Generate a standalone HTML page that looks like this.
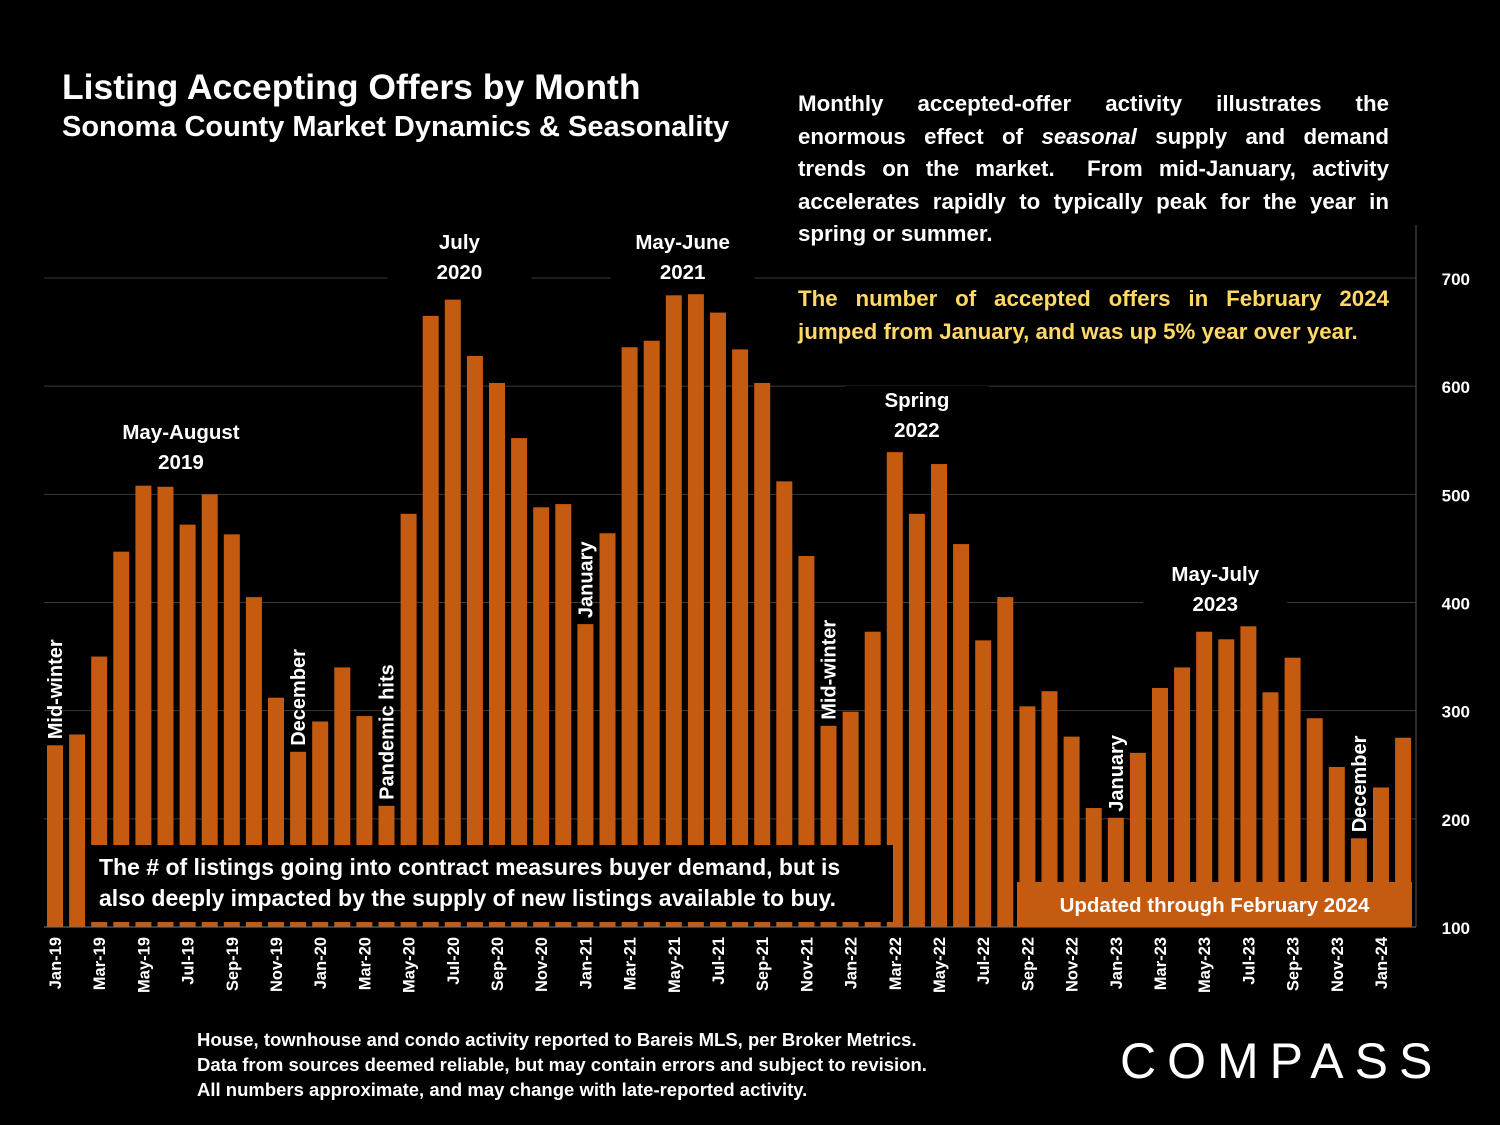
<!DOCTYPE html>
<html><head><meta charset="utf-8">
<style>
html,body{margin:0;padding:0;background:#000;}
body{width:1500px;height:1125px;position:relative;overflow:hidden;font-family:"Liberation Sans",sans-serif;color:#fff;}
.abs{position:absolute;}
#title{left:62px;top:67px;font-size:35.5px;font-weight:bold;white-space:nowrap;}
#subtitle{left:62px;top:111px;font-size:29px;font-weight:bold;white-space:nowrap;}
#para{left:798px;top:88px;width:591px;font-size:22.3px;font-weight:bold;line-height:32.5px;text-align:justify;background:#000;}
#para2{left:798px;top:283px;width:591px;font-size:22.3px;font-weight:bold;line-height:32.5px;text-align:justify;color:#ffd966;background:#000;}
#note{left:85px;top:845px;width:808px;height:77px;background:#000;font-size:23px;font-weight:bold;line-height:31px;padding:7px 14px 0 14px;box-sizing:border-box;}
#updated{left:1017px;top:882px;width:395px;height:45px;background:#c55a11;font-size:20.5px;font-weight:bold;line-height:47px;text-align:center;}
#foot{left:197px;top:1027px;font-size:18.5px;font-weight:bold;line-height:25px;white-space:nowrap;}
#logo{left:1120px;top:1032px;font-size:50px;letter-spacing:11px;white-space:nowrap;}
</style></head><body>
<svg id="chart" class="abs" style="left:0;top:0" width="1500" height="1125"></svg>
<div id="title" class="abs">Listing Accepting Offers by Month</div>
<div id="subtitle" class="abs">Sonoma County Market Dynamics &amp; Seasonality</div>
<div id="para" class="abs">Monthly accepted-offer activity illustrates the enormous effect of <i>seasonal</i> supply and demand trends on the market.&nbsp; From mid-January, activity accelerates rapidly to typically peak for the year in spring or summer.</div>
<div id="para2" class="abs">The number of accepted offers in February 2024 jumped from January, and was up 5% year over year.</div>
<div id="note" class="abs">The # of listings going into contract measures buyer demand, but is also deeply impacted by the supply of new listings available to buy.</div>
<div id="updated" class="abs">Updated through February 2024</div>
<div id="foot" class="abs">House, townhouse and condo activity reported to Bareis MLS, per Broker Metrics.<br>Data from sources deemed reliable, but may contain errors and subject to revision.<br>All numbers approximate, and may change with late-reported activity.</div>
<div id="logo" class="abs">COMPASS</div>
<script>
const months = ["Jan-19","Feb-19","Mar-19","Apr-19","May-19","Jun-19","Jul-19","Aug-19","Sep-19","Oct-19","Nov-19","Dec-19",
"Jan-20","Feb-20","Mar-20","Apr-20","May-20","Jun-20","Jul-20","Aug-20","Sep-20","Oct-20","Nov-20","Dec-20",
"Jan-21","Feb-21","Mar-21","Apr-21","May-21","Jun-21","Jul-21","Aug-21","Sep-21","Oct-21","Nov-21","Dec-21",
"Jan-22","Feb-22","Mar-22","Apr-22","May-22","Jun-22","Jul-22","Aug-22","Sep-22","Oct-22","Nov-22","Dec-22",
"Jan-23","Feb-23","Mar-23","Apr-23","May-23","Jun-23","Jul-23","Aug-23","Sep-23","Oct-23","Nov-23","Dec-23",
"Jan-24","Feb-24"];
const offers = [268,278,350,447,508,507,472,500,463,405,312,262,
290,340,295,212,482,665,680,628,603,552,488,491,
380,464,636,642,684,685,668,634,603,512,443,286,
299,373,539,482,528,454,365,405,304,318,276,210,
201,261,321,340,373,366,378,317,349,293,248,182,
229,275];
const yTicks = [100,200,300,400,500,600,700];
const vLabels = [["Mid-winter",0],["December",11],["Pandemic hits",15],["January",24],["Mid-winter",35],["January",48],["December",59]];
const hLabels = [["May-August","2019",5.7,432],["July","2020",18.3,242],["May-June","2021",28.4,242],["Spring","2022",39,400],["May-July","2023",52.5,574]];

const svg = document.getElementById('chart');
const NS = 'http://www.w3.org/2000/svg';
const x0 = 44, step = 22.1, y0 = 927, pxPer = 649/600;
const xc = i => x0 + 11 + step*i;
const ys = v => y0 - (v-100)*pxPer;
function mk(tag, attrs){const e=document.createElementNS(NS,tag);for(const k in attrs)e.setAttribute(k,attrs[k]);svg.appendChild(e);return e;}

yTicks.forEach(t=>{
  const g = mk('line',{x1:x0,x2:1416,y1:ys(t),y2:ys(t),stroke:'#3a3a3a','stroke-width':1});
  
  
  const tl = mk('text',{x:1470,y:ys(t)+7,fill:'#fff','font-size':17,'font-weight':'bold','text-anchor':'end','font-family':'Liberation Sans'});
  tl.textContent=t;
  
  
});
const ax = mk('line',{x1:1416,x2:1416,y1:225,y2:927,stroke:'#555','stroke-width':1});



offers.forEach((v,i)=>{
  const b = mk('rect',{x:xc(i)-8,y:ys(v),width:16,height:y0-ys(v),fill:'#c55a11'});
  
  
});
const xa = mk('line',{x1:x0,x2:1416,y1:927,y2:927,stroke:'#777','stroke-width':1});



months.forEach((m,i)=>{
  if(i%2) return;
  const t = mk('text',{x:0,y:0,fill:'#fff','font-size':16.5,'font-weight':'bold','text-anchor':'end','font-family':'Liberation Sans',
    transform:`translate(${xc(i)+6},${937}) rotate(-90)`});
  t.textContent=m;
  
  
});

vLabels.forEach(([txt,i])=>{
  const bottom = ys(offers[i]) - 6;
  const t = mk('text',{x:0,y:0,fill:'#fff','font-size':20,'font-weight':'bold','font-family':'Liberation Sans',
    transform:`translate(${xc(i)+7},${bottom}) rotate(-90)`});
  t.textContent=txt;
  
  
});
hLabels.forEach(([a,b,i,y])=>{
  const cx = xc(i);
  const bg = mk('rect',{x:cx-72,y:y-14,width:144,height:64,fill:'#000'});
  
  
  [a,b].forEach((s,k)=>{
    const t = mk('text',{x:cx,y:y+7+k*30,fill:'#fff','font-size':20.5,'font-weight':'bold','text-anchor':'middle','font-family':'Liberation Sans'});
    t.textContent=s;
    
    
  });
});
</script>
</body></html>
